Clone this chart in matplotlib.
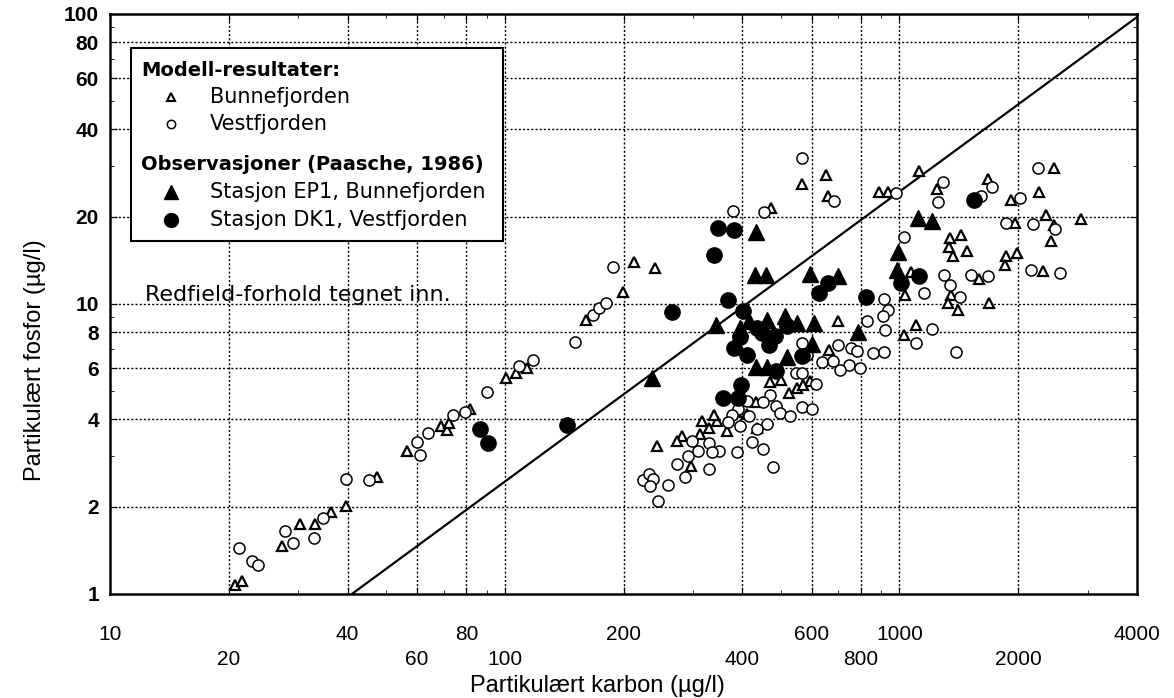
import numpy as np
import matplotlib
matplotlib.use('Agg')
import matplotlib.pyplot as plt
from matplotlib.patches import Rectangle
from matplotlib.ticker import FixedLocator, LogLocator, NullFormatter

# Modell-resultater, Bunnefjorden (åpne trekanter): karbon, fosfor (ug/l)
bunne_c = [20.7, 21.6, 27.2, 30.3, 33.0, 36.3, 39.6, 47.4, 56.5, 68.8, 71.3, 72.1, 81.5,
           101, 107, 114, 161, 199, 213, 240,
           650, 565, 661, 1124, 889, 933, 474, 1248, 1680, 2468, 2262, 1922, 1967, 2356,
           2468, 2890, 2426, 1346, 1436, 1338, 1370, 1486, 1866, 1855, 1990, 2317, 1595,
           1072, 1035, 1355, 1330, 1410, 1690, 701, 1099, 1030, 665,
           469, 500, 595, 524, 549, 571, 432, 412, 385, 365, 346, 340, 330, 317, 312,
           281, 243, 435, 274, 297]
bunne_p = [1.07, 1.11, 1.46, 1.74, 1.74, 1.92, 2.01, 2.53, 3.11, 3.80, 3.68, 3.89, 4.34,
           5.56, 5.78, 6.02, 8.81, 11.0, 14.0, 13.3,
           27.8, 25.9, 23.6, 28.7, 24.3, 24.3, 21.4, 24.9, 27.0, 29.4, 24.3, 22.8, 19.0, 20.3,
           18.7, 19.6, 16.5, 16.9, 17.3, 15.7, 14.6, 15.2, 14.6, 13.6, 15.0, 13.0, 12.2,
           12.9, 10.7, 10.7, 10.1, 9.54, 10.1, 8.74, 8.47, 7.82, 6.94,
           5.38, 5.47, 5.42, 4.93, 5.13, 5.26, 4.59, 4.18, 4.24, 3.65, 3.95, 4.14, 3.74, 3.95, 3.56,
           3.51, 3.24, 3.74, 3.37, 2.76]

# Modell-resultater, Vestfjorden (åpne sirkler)
vest_c = [21.2, 22.9, 23.7, 27.7, 29.1, 32.8, 34.6, 39.6, 45.3, 59.8, 60.9, 63.9, 73.8,
          79.2, 90.0, 109, 118, 151, 167, 173, 181, 188, 378, 455, 568, 681, 983, 1292,
          1256, 1613, 1718, 2249, 2024, 1866, 2184, 2483, 1030, 2159, 2557, 1300, 1346,
          1522, 1680, 1157, 1427, 916, 933, 911, 922, 830, 1099, 1213, 1394,
          565, 701, 756, 783, 859, 916, 582, 638, 677, 747, 797, 709, 546, 568, 616,
          469, 450, 488, 497, 527, 565, 599, 412, 389, 376, 417, 463, 435, 394, 367,
          299, 330, 308, 350, 336, 387, 424, 450, 291, 274, 477, 224, 232, 238, 234,
          260, 245, 286, 330]
vest_p = [1.44, 1.30, 1.26, 1.65, 1.50, 1.56, 1.83, 2.49, 2.47, 3.34, 3.01, 3.59, 4.14,
          4.24, 4.97, 6.11, 6.41, 7.39, 9.17, 9.69, 10.1, 13.4, 20.9, 20.8, 31.9, 22.7, 24.1, 26.3,
          22.5, 23.6, 25.3, 29.4, 23.2, 19.0, 18.9, 18.1, 17.0, 13.1, 12.8, 12.6, 11.6,
          12.6, 12.5, 10.9, 10.6, 10.4, 9.54, 9.09, 8.13, 8.74, 7.34, 8.20, 6.83,
          7.34, 7.22, 7.05, 6.88, 6.78, 6.83, 6.67, 6.31, 6.37, 6.16, 6.02, 5.92, 5.78, 5.78, 5.30,
          4.86, 4.59, 4.45, 4.21, 4.11, 4.41, 4.34, 4.63, 4.34, 4.14, 4.11, 3.86, 3.71, 3.80, 3.92,
          3.37, 3.32, 3.11, 3.11, 3.08, 3.08, 3.34, 3.16, 2.99, 2.81, 2.74, 2.47, 2.59, 2.49, 2.36,
          2.38, 2.09, 2.53, 2.70]

# Observasjoner (Paasche, 1986), stasjon EP1 (fylte trekanter)
ep1_c = [236, 344, 432, 430, 458, 595, 697, 1117, 1213, 994, 989, 787, 417, 463,
         512, 518, 549, 606, 394, 602, 520, 432, 463]
ep1_p = [5.56, 8.47, 17.7, 12.6, 12.6, 12.7, 12.5, 19.8, 19.3, 15.1, 13.1, 8.01, 8.74, 8.81,
         9.09, 8.67, 8.60, 8.60, 8.27, 7.28, 6.57, 6.06, 6.06]

# Observasjoner (Paasche, 1986), stasjon DK1 (fylte sirkler)
dk1_c = [86.5, 90.6, 144, 265, 340, 348, 380, 367, 661, 627, 825, 1124, 1012, 1549,
         401, 435, 448, 485, 394, 466, 382, 412, 520, 565, 488, 396, 358, 391]
dk1_p = [3.71, 3.32, 3.83, 9.38, 14.8, 18.3, 18.0, 10.3, 11.8, 10.9, 10.6, 12.5, 11.8, 22.8,
         9.46, 8.27, 7.94, 7.76, 7.70, 7.22, 7.05, 6.67, 8.40, 6.64, 5.87, 5.26, 4.74, 4.74]

# Redfield-forhold (vektbasis C:P)
redfield_cp = 41
redfield_c = [10, 4000]

xtick_vals = [10, 20, 40, 60, 80, 100, 200, 400, 600, 800, 1000, 2000, 4000]
xtick_lower = [20, 60, 100, 400, 800, 2000]
ytick_vals = [1, 2, 4, 6, 8, 10, 20, 40, 60, 80, 100]

plt.rcParams['font.family'] = ['Liberation Sans', 'DejaVu Sans']

fig = plt.figure(figsize=(11.74, 6.98), dpi=100)
ax = fig.add_axes([0.0937, 0.149, 0.8748, 0.831])
ax.set_xscale('log')
ax.set_yscale('log')
ax.set_xlim(10, 4000)
ax.set_ylim(1, 100)

# gitter (prikket)
for v in xtick_vals[1:-1]:
    ax.axvline(v, color='black', lw=1.0, ls=(0, (1.5, 1.5)), zorder=1)
for v in ytick_vals[1:-1]:
    ax.axhline(v, color='black', lw=1.0, ls=(0, (1.5, 1.5)), zorder=1)

# Redfield-linje
rc = np.array(redfield_c, dtype=float)
ax.plot(rc, rc / redfield_cp, color='black', lw=1.6, zorder=2)

ax.plot(bunne_c, bunne_p, ls='none', marker='^', ms=7, mfc='white', mec='black', mew=1.6, zorder=3)
ax.plot(vest_c, vest_p, ls='none', marker='o', ms=8, mfc='white', mec='black', mew=1.1, zorder=3)
ax.plot(ep1_c, ep1_p, ls='none', marker='^', ms=11, color='black', zorder=4)
ax.plot(dk1_c, dk1_p, ls='none', marker='o', ms=11, color='black', zorder=4)

# akser
ax.xaxis.set_major_locator(FixedLocator(xtick_vals))
ax.set_xticklabels([str(v) for v in xtick_vals], fontsize=15)
ax.xaxis.set_minor_locator(LogLocator(base=10, subs=np.arange(1, 10)))
ax.xaxis.set_minor_formatter(NullFormatter())
ax.yaxis.set_major_locator(FixedLocator(ytick_vals))
ax.set_yticklabels([str(v) for v in ytick_vals], fontsize=15, fontweight='bold')
ax.yaxis.set_minor_locator(LogLocator(base=10, subs=np.arange(1, 10)))
ax.yaxis.set_minor_formatter(NullFormatter())
ax.tick_params(which='both', direction='in', top=True, right=True)
ax.tick_params(which='major', length=5)
ax.tick_params(which='minor', length=3)
ax.tick_params(axis='y', which='major', pad=8)
for v, t in zip(xtick_vals, ax.xaxis.get_major_ticks()):
    t.set_pad(40 if v in xtick_lower else 22)
for s in ax.spines.values():
    s.set_linewidth(1.8)

fig.text(0.030, 0.484, 'Partikulært fosfor (µg/l)', rotation=90, fontsize=17,
         ha='center', va='center')
fig.text(0.509, 0.017, 'Partikulært karbon (µg/l)', fontsize=17, ha='center', va='center')

# forklaring
ax.add_patch(Rectangle((0.0204, 0.609), 0.3626, 0.332, transform=ax.transAxes,
                       facecolor='white', edgecolor='black', lw=1.5, zorder=5))
legend_font = ['DejaVu Sans']
ax.text(0.030, 0.902, 'Modell-resultater:', transform=ax.transAxes, fontsize=14,
        fontweight='bold', va='center', family=legend_font, zorder=6)
ax.text(0.030, 0.740, 'Observasjoner (Paasche, 1986)', transform=ax.transAxes, fontsize=14,
        fontweight='bold', va='center', family=legend_font, zorder=6)
items = [(0.857, 'Bunnefjorden', dict(marker='^', ms=6, mfc='white', mec='black', mew=1.5)),
         (0.810, 'Vestfjorden', dict(marker='o', ms=6, mfc='white', mec='black', mew=1.1)),
         (0.693, 'Stasjon EP1, Bunnefjorden', dict(marker='^', ms=10, color='black')),
         (0.645, 'Stasjon DK1, Vestfjorden', dict(marker='o', ms=10, color='black'))]
for yy, lab, style in items:
    ax.plot([0.059], [yy], transform=ax.transAxes, ls='none', zorder=6, clip_on=False, **style)
    ax.text(0.097, yy, lab, transform=ax.transAxes, fontsize=15, va='center',
            family=legend_font, zorder=6)

ax.text(0.034, 0.516, 'Redfield-forhold tegnet inn.', transform=ax.transAxes, fontsize=16,
        va='center', family=legend_font, zorder=6)

fig.savefig('out.png', dpi=100)
